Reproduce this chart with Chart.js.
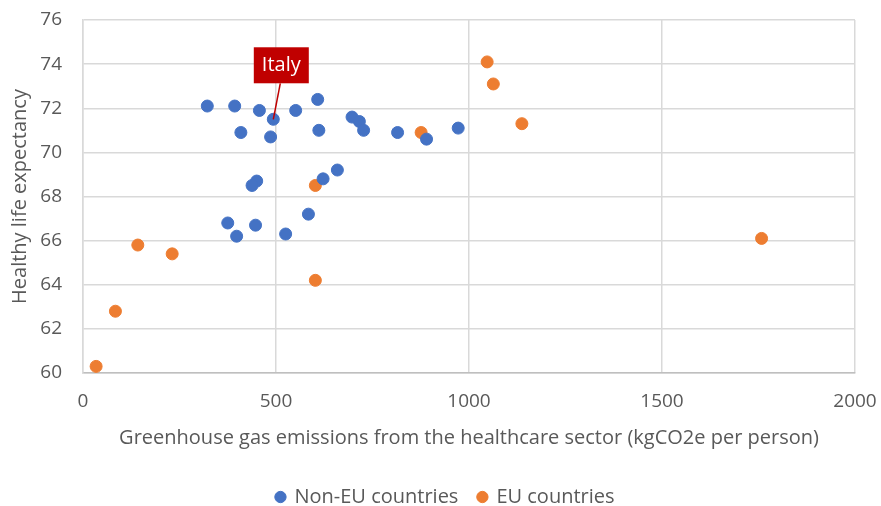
<!doctype html>
<html lang="en">
  <head>
    <meta charset="utf-8">
    <title>Healthcare emissions vs healthy life expectancy</title>
    <script src="https://cdn.jsdelivr.net/npm/chart.js@4.4.1/dist/chart.umd.min.js"></script>
    <style>
      body {
        margin: 0;
        background: #ffffff;
      }
      #wrap {
        width: 881px;
        height: 506px;
      }
    </style>
  </head>
  <body>
    <div id="wrap">
      <canvas id="myChart" width="881" height="506"></canvas>
    </div>
    <script>
      // values
      const nonEuX = [322, 393, 457, 493, 551, 608, 409, 486, 611, 697, 716, 727, 815, 890, 972, 450, 438, 622, 659, 375, 398, 447, 525, 584];
      const nonEuY = [72.1, 72.1, 71.9, 71.5, 71.9, 72.4, 70.9, 70.7, 71.0, 71.6, 71.4, 71.0, 70.9, 70.6, 71.1, 68.7, 68.5, 68.8, 69.2, 66.8, 66.2, 66.7, 66.3, 67.2];
      const euX = [1047, 1063, 1137, 1758, 876, 602, 602, 142, 231, 84, 34];
      const euY = [74.1, 73.1, 71.3, 66.1, 70.9, 68.5, 64.2, 65.8, 65.4, 62.8, 60.3];
      const xTicks = [0, 500, 1000, 1500, 2000];
      const yTicks = [60, 62, 64, 66, 68, 70, 72, 74, 76];
      const italyIndex = 3;

      const textColor = '#595959';
      const gridColor = '#d9d9d9';
      const fontFamily = '"Open Sans", sans-serif';

      function toPoints(xs, ys) {
        return xs.map((x, i) => ({ x: x, y: ys[i] }));
      }

      // red callout with leader line for Italy
      const italyLabel = {
        id: 'italyLabel',
        afterDatasetsDraw(chart) {
          const pt = chart.getDatasetMeta(0).data[italyIndex];
          if (!pt) return;
          const ctx = chart.ctx;
          const px = pt.x, py = pt.y;
          const boxW = 55, boxH = 36;
          const bx = px + 8 - boxW / 2;
          const by = py - 72;
          ctx.save();
          ctx.strokeStyle = '#c00000';
          ctx.lineWidth = 1.5;
          ctx.beginPath();
          ctx.moveTo(px + 7, by + boxH);
          ctx.lineTo(px, py);
          ctx.stroke();
          ctx.fillStyle = '#c00000';
          ctx.fillRect(bx, by, boxW, boxH);
          ctx.fillStyle = '#ffffff';
          ctx.font = '20px ' + fontFamily;
          ctx.textAlign = 'center';
          ctx.textBaseline = 'middle';
          ctx.fillText('Italy', bx + boxW / 2, by + boxH / 2);
          ctx.restore();
        }
      };

      // legend sits a little right of the plot centre in the original
      const legendShift = {
        id: 'legendShift',
        afterLayout(chart) {
          chart.legend.left += 18;
          chart.legend.right += 18;
        }
      };

      const ctx = document.getElementById('myChart').getContext('2d');
      const myChart = new Chart(ctx, {
        type: 'scatter',
        data: {
          datasets: [{
            label: 'Non-EU countries',
            data: toPoints(nonEuX, nonEuY),
            backgroundColor: '#4472c4',
            borderColor: '#4472c4',
            pointRadius: 6,
            pointHoverRadius: 6
          }, {
            label: 'EU countries',
            data: toPoints(euX, euY),
            backgroundColor: '#ed7d31',
            borderColor: '#ed7d31',
            pointRadius: 6,
            pointHoverRadius: 6
          }]
        },
        options: {
          responsive: false,
          animation: false,
          layout: {
            autoPadding: false,
            padding: { top: 20, right: 26, bottom: -11, left: 0 }
          },
          plugins: {
            tooltip: { enabled: false },
            legend: {
              position: 'bottom',
              labels: {
                usePointStyle: true,
                pointStyle: 'circle',
                boxWidth: 8,
                boxHeight: 8,
                padding: 20,
                color: textColor,
                font: { family: fontFamily, size: 20 }
              }
            }
          },
          scales: {
            x: {
              type: 'linear',
              min: xTicks[0],
              max: xTicks[xTicks.length - 1],
              afterBuildTicks(scale) {
                scale.ticks = xTicks.map(v => ({ value: v }));
              },
              afterFit(scale) {
                scale.height = 94;
              },
              grid: { color: gridColor, lineWidth: 1.5, drawTicks: true, tickLength: 17, tickColor: 'rgba(0,0,0,0)' },
              border: { color: '#bfbfbf', width: 1.5 },
              ticks: {
                padding: 0,
                color: textColor,
                font: { family: fontFamily, size: 19 },
                callback: v => String(v)
              },
              title: {
                display: true,
                text: 'Greenhouse gas emissions from the healthcare sector (kgCO2e per person)',
                color: textColor,
                font: { family: fontFamily, size: 20 },
                padding: { top: 0, bottom: 17 }
              }
            },
            y: {
              type: 'linear',
              min: yTicks[0],
              max: yTicks[yTicks.length - 1],
              afterBuildTicks(scale) {
                scale.ticks = yTicks.map(v => ({ value: v }));
              },
              afterFit(scale) {
                scale.width = 83;
              },
              grid: { color: gridColor, lineWidth: 1.5, drawTicks: true, tickLength: 21, tickColor: 'rgba(0,0,0,0)' },
              border: { color: '#d9d9d9', width: 1.5 },
              ticks: {
                padding: 0,
                color: textColor,
                font: { family: fontFamily, size: 19 }
              },
              title: {
                display: true,
                text: 'Healthy life expectancy',
                color: textColor,
                font: { family: fontFamily, size: 20 },
                padding: { top: 8, bottom: 0 }
              }
            }
          }
        },
        plugins: [italyLabel, legendShift]
      });
    </script>
  </body>
</html>
